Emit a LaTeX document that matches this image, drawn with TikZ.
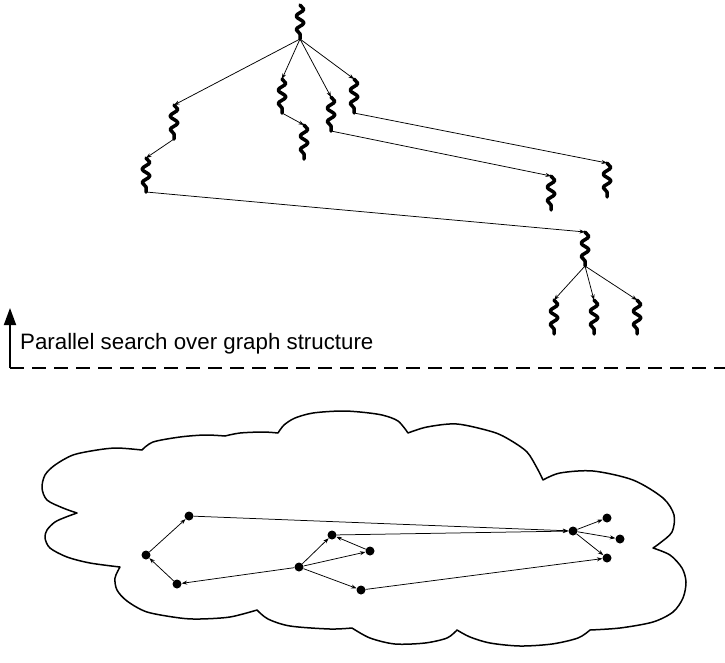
\documentclass[tikz,border=0pt]{standalone}
\usepackage{fontspec}
\setmainfont{Liberation Sans}
\usetikzlibrary{arrows.meta,decorations.pathmorphing}
\begin{document}
\begin{tikzpicture}[x=1pt,y=-1pt,
  thread/.style={minimum width=10pt, minimum height=34pt, inner sep=0pt, outer sep=0pt},
  wiggle/.style={line width=3.5pt, line cap=round, line join=round, decorate,
    decoration={snake, amplitude=3.8pt, segment length=13.6pt}},
  tedge/.style={line width=0.75pt, -{Stealth[length=5.5pt,width=4pt]}},
  dot/.style={circle, fill=black, minimum size=9pt, inner sep=0pt},
  gedge/.style={line width=0.75pt, -{Stealth[length=5.5pt,width=4pt]}},
  cloudline/.style={line width=1.5pt, line join=round},
  divider/.style={line width=1.8pt, dash pattern=on 14pt off 8pt},
]
\useasboundingbox (0,0) rectangle (725,662);

% ---------- search tree of threads ----------
\node[thread] (r)   at (300,22)  {};
\node[thread] (t1)  at (174,122) {};
\node[thread] (t2)  at (282,96)  {};
\node[thread] (t3)  at (331,114) {};
\node[thread] (t4)  at (354,96)  {};
\node[thread] (t5)  at (304,142) {};
\node[thread] (t6)  at (146,175) {};
\node[thread] (t7)  at (551,193) {};
\node[thread] (t8)  at (607,180) {};
\node[thread] (t9)  at (585,249) {};
\node[thread] (t10) at (554,317) {};
\node[thread] (t11) at (594,317) {};
\node[thread] (t12) at (637,317) {};

\foreach \n in {r,t1,t2,t3,t4,t5,t6,t7,t8,t9,t10,t11,t12}
  \draw[wiggle] (\n.north) -- (\n.south);

\foreach \a/\b in {r/t1, r/t2, r/t3, r/t4, t2/t5, t1/t6, t3/t7, t4/t8,
                   t6/t9, t9/t10, t9/t11, t9/t12}
  \draw[tedge] (\a.south) -- (\b.north);

% ---------- label, arrow and divider ----------
\coordinate (axbase) at (10,368);
\coordinate (axtip)  at (10,308);
\coordinate (dashend) at (725,368);
\draw[divider] (axbase) -- (dashend);
\draw[line width=1.8pt, -{Triangle[length=17pt,width=12pt]}] (axbase) -- (axtip);
\node[anchor=base west, inner sep=0pt, font=\fontsize{22.3}{26}\selectfont]
  (lbl) at (20,349) {Parallel search over graph structure};

% ---------- cloud ----------
\draw[cloudline]
  plot[smooth] coordinates {(77,513) (63,508) (47,500) (42,488) (45,475) (55,465) (73,455) (97,450) (117,448) (142,450)}
  -- plot[smooth] coordinates {(142,450) (153,442) (180,437) (205,435) (225,436)}
  -- plot[smooth] coordinates {(225,436) (240,433) (263,432) (278,433)}
  -- plot[smooth] coordinates {(278,433) (284,425) (295,418) (313,413) (340,411) (360,412) (382,415) (398,421) (408,433)}
  -- plot[smooth] coordinates {(408,433) (427,427) (457,424) (493,432) (510,440) (527,452) (537,468) (543,480)}
  -- plot[smooth] coordinates {(543,480) (560,473) (593,471) (633,480) (663,498) (674,515) (672,532) (660,543) (653,548)}
  -- plot[smooth] coordinates {(653,548) (670,555) (682,568) (686,582) (683,598) (673,612) (653,622) (620,628) (590,630)}
  -- plot[smooth] coordinates {(590,630) (578,638) (552,644) (520,646) (490,643) (470,637) (457,630)}
  -- plot[smooth] coordinates {(457,630) (447,638) (425,643) (395,644) (370,638) (352,628)}
  -- plot[smooth] coordinates {(352,628) (330,629) (290,626) (268,619) (257,610)}
  -- plot[smooth] coordinates {(257,610) (230,617) (200,619) (180,618) (147,612) (127,601) (117,590) (115,578) (120,567)}
  -- plot[smooth] coordinates {(120,567) (90,563) (67,557) (50,548) (45,538) (47,530) (55,522) (66,517) (77,513)}
  -- cycle;

% ---------- graph ----------
\node[dot] (A) at (189,516) {};
\node[dot] (B) at (146,555) {};
\node[dot] (C) at (177,584) {};
\node[dot] (D) at (299,567) {};
\node[dot] (E) at (332,535) {};
\node[dot] (F) at (370,551) {};
\node[dot] (G) at (361,590) {};
\node[dot] (H) at (573,531) {};
\node[dot] (I) at (607,518) {};
\node[dot] (J) at (620,539) {};
\node[dot] (K) at (607,558) {};

\foreach \a/\b in {C/B, B/A, D/C, D/E, D/F, F/E, D/G, A/H, E/H, G/K, H/I, H/J, H/K}
  \draw[gedge] (\a) -- (\b);
\end{tikzpicture}
\end{document}
